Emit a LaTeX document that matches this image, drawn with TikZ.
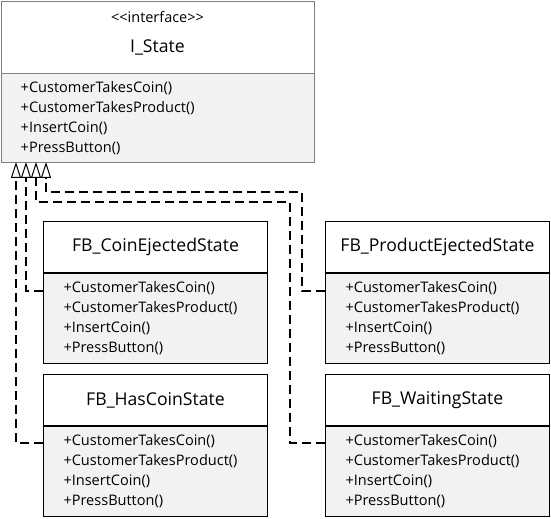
\documentclass[tikz,border=0pt]{standalone}
\usepackage{fontspec}
\setmainfont{Open Sans}
\usetikzlibrary{arrows.meta,calc}
\definecolor{compfill}{HTML}{F2F2F2}
\definecolor{ifborder}{HTML}{7F7F7F}
\tikzset{
  hdr/.style={draw=black, line width=1bp, fill=white, minimum width=224bp, minimum height=51bp, inner sep=0pt, font=\fontsize{17.7}{20}\selectfont},
  meth/.style={draw=black, line width=1bp, fill=compfill, minimum width=224bp, minimum height=90bp, inner sep=0pt, text width=184bp, align=left, font=\fontsize{14.6}{20}\selectfont},
  dep/.style={dash pattern=on 9bp off 5bp, line width=1.3bp, -{Triangle[open, width=10bp, length=16bp, fill=white, line width=1bp]}},
}
\begin{document}
\begin{tikzpicture}[x=1bp,y=-1bp]
\useasboundingbox (0,0) rectangle (551,519);
% interface
\node[hdr, draw=ifborder, line width=1.4bp, minimum width=313bp, minimum height=72bp, anchor=north west] (ifh) at (1,1) {};
\node[font=\fontsize{14.5}{16}\selectfont] (ifs) at (157.5,17) {{<}{<}interface{>}{>}};
\node[font=\fontsize{17.7}{20}\selectfont] (ifn) at (157.5,47) {I\_State};
\node[meth, draw=ifborder, line width=1.4bp, minimum width=313bp, minimum height=89bp, text width=275bp, anchor=north west] (ifm) at (1,73) {+CustomerTakesCoin()\\+CustomerTakesProduct()\\+InsertCoin()\\+PressButton()};
% classes
\node[hdr, anchor=north west] (ceh) at (43,221) {FB\_CoinEjectedState};
\node[meth, anchor=north] (cem) at (ceh.south) {+CustomerTakesCoin()\\+CustomerTakesProduct()\\+InsertCoin()\\+PressButton()};
\node[hdr, anchor=north west] (peh) at (325,221) {FB\_ProductEjectedState};
\node[meth, anchor=north] (pem) at (peh.south) {+CustomerTakesCoin()\\+CustomerTakesProduct()\\+InsertCoin()\\+PressButton()};
\node[hdr, anchor=north west] (hch) at (43,374) {FB\_HasCoinState};
\node[meth, anchor=north] (hcm) at (hch.south) {+CustomerTakesCoin()\\+CustomerTakesProduct()\\+InsertCoin()\\+PressButton()};
\node[hdr, anchor=north west] (wth) at (325,374) {FB\_WaitingState};
\node[meth, anchor=north] (wtm) at (wth.south) {+CustomerTakesCoin()\\+CustomerTakesProduct()\\+InsertCoin()\\+PressButton()};
% arrow tips
\coordinate (t1) at (16,162);
\coordinate (t2) at (26,162);
\coordinate (t3) at (36,162);
\coordinate (t4) at (46,162);
% connectors
\draw[dep] (hcm.west |- 0,443) -| (t1);
\draw[dep] (cem.west |- 0,291) -| (t2);
\draw[dep] (wtm.west |- 0,443) -- (290,443) -- (290,202) -| (t3);
\draw[dep] (pem.west |- 0,291) -- (302,291) -- (302,192) -| (t4);
\end{tikzpicture}
\end{document}
